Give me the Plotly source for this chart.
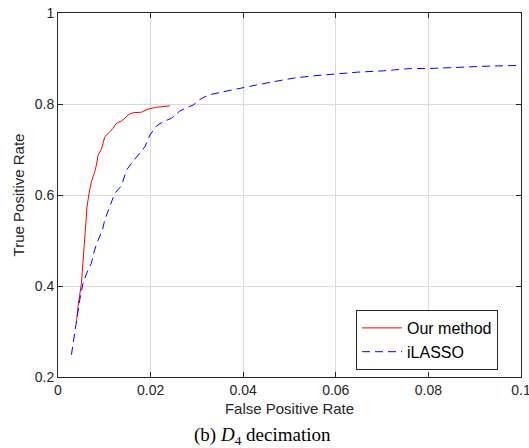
import plotly.graph_objects as go

# Our method (red, solid)
our_fpr = [0.00398, 0.00433, 0.00506, 0.00556, 0.0060, 0.00628, 0.00671, 0.00723, 0.00794,
           0.0083, 0.00866, 0.0094, 0.00974, 0.0101, 0.0112, 0.0119, 0.01264, 0.01372,
           0.01444, 0.01515, 0.01623, 0.01805, 0.01948, 0.0213, 0.02418]
our_tpr = [0.319, 0.355, 0.406, 0.479, 0.531, 0.575, 0.604, 0.630, 0.651,
           0.666, 0.688, 0.701, 0.714, 0.728, 0.739, 0.747, 0.758, 0.763,
           0.769, 0.776, 0.781, 0.782, 0.789, 0.793, 0.796]

# iLASSO (blue, dashed)
il_fpr = [0.0029, 0.00361, 0.00411, 0.0047, 0.0054, 0.0065, 0.0072, 0.0079, 0.00866,
          0.0096, 0.0101, 0.0112, 0.01227, 0.0137, 0.0148, 0.0159, 0.0173, 0.01877,
          0.01985, 0.0213, 0.0227, 0.02455, 0.02634, 0.02922, 0.03067, 0.03247,
          0.0357, 0.0400, 0.04294, 0.04654, 0.05087, 0.0552, 0.0601, 0.0646,
          0.07035, 0.0761, 0.0801, 0.0862, 0.0920, 0.1000]
il_tpr = [0.249, 0.297, 0.333, 0.370, 0.406, 0.436, 0.450, 0.479, 0.501,
          0.523, 0.545, 0.575, 0.604, 0.620, 0.655, 0.670, 0.688, 0.706,
          0.732, 0.752, 0.761, 0.769, 0.785, 0.798, 0.810, 0.820,
          0.827, 0.835, 0.842, 0.849, 0.857, 0.862, 0.866, 0.870,
          0.873, 0.878, 0.878, 0.881, 0.883, 0.885]

x_ticks = [0, 0.02, 0.04, 0.06, 0.08, 0.1]
x_tick_labels = ["0", "0.02", "0.04", "0.06", "0.08", "0.1"]
y_ticks = [0.2, 0.4, 0.6, 0.8, 1.0]
y_tick_labels = ["0.2", "0.4", "0.6", "0.8", "1"]

axis_col = "#262626"
grid_col = "#d9d9d9"
sans = "Liberation Sans, Arial, sans-serif"

W, H = 529, 448
ML, MR, MT, MB = 58, 8, 13, 71
PW, PH = W - ML - MR, H - MT - MB

fig = go.Figure()
fig.add_trace(go.Scatter(x=our_fpr, y=our_tpr, mode="lines", name="Our method",
                         line=dict(color="#ff0000", width=1)))
fig.add_trace(go.Scatter(x=il_fpr, y=il_tpr, mode="lines", name="iLASSO",
                         line=dict(color="#0000ff", width=1, dash="8px,5px")))

axis_common = dict(showline=True, linecolor=axis_col, linewidth=1, mirror="ticks",
                   ticks="inside", ticklen=5, tickcolor=axis_col, showgrid=True,
                   gridcolor=grid_col, gridwidth=1, zeroline=False, automargin=False,
                   ticklabeloverflow="allow",
                   tickfont=dict(family=sans, size=14, color=axis_col))

fig.update_xaxes(range=[0, 0.10001], tickvals=x_ticks, ticktext=x_tick_labels,
                 title=dict(text="False Positive Rate", font=dict(family=sans, size=15, color=axis_col),
                            standoff=6),
                 **axis_common)
fig.update_yaxes(range=[0.2, 1.0001], tickvals=y_ticks, ticktext=y_tick_labels,
                 title=dict(text="True Positive Rate", font=dict(family=sans, size=15, color=axis_col),
                            standoff=6),
                 **axis_common)

fig.update_layout(
    width=W, height=H,
    margin=dict(l=ML, r=MR, t=MT, b=MB, autoexpand=False),
    plot_bgcolor="white", paper_bgcolor="white",
    showlegend=True,
    legend=dict(x=(498 - ML) / PW, y=(377 - 370) / PH, xanchor="right", yanchor="bottom",
                bordercolor=axis_col, borderwidth=1, bgcolor="white",
                font=dict(family=sans, size=16, color="black"),
                tracegroupgap=0, itemwidth=40, entrywidth=150, entrywidthmode="pixels"),
    annotations=[dict(text="(b) <i>D</i><sub>4</sub> decimation",
                      x=(262 - ML) / PW, y=-(436 - (MT + PH)) / PH,
                      xref="paper", yref="paper", showarrow=False,
                      xanchor="center", yanchor="middle",
                      font=dict(family="Liberation Serif, Times New Roman, serif", size=19, color="black"))],
)

fig.write_html("out.html", config={"displayModeBar": False},
               post_script="document.body.style.margin='0';document.body.style.padding='0';")
